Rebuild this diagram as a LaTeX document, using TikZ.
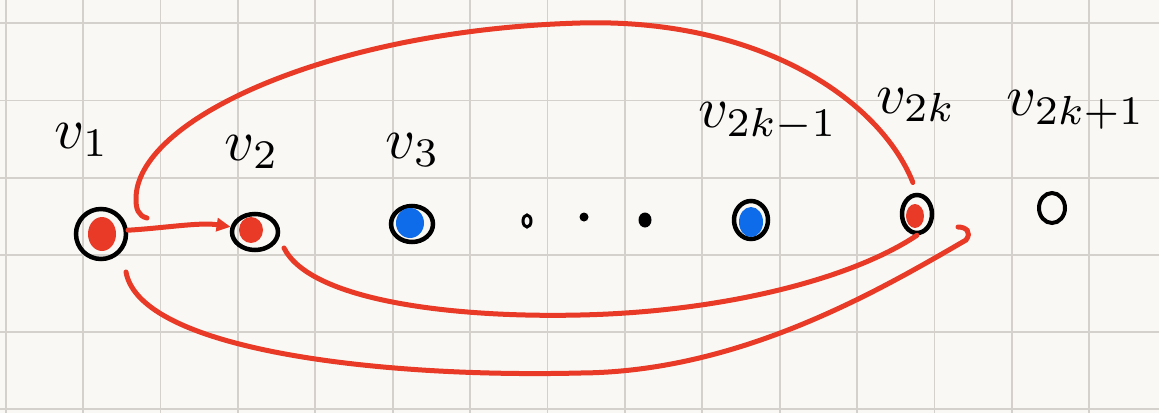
\documentclass[tikz,border=0pt]{standalone}
\usepackage{amsmath}
\usetikzlibrary{arrows.meta,shapes.geometric}
\definecolor{cbRed}{RGB}{232,58,38}
\definecolor{cbBlue}{RGB}{14,108,235}
\definecolor{paper}{RGB}{250,248,244}
\definecolor{gridgray}{RGB}{212,208,203}
\tikzset{
    >=Stealth,
    ring/.style={ellipse,draw=black,line width=4.5pt,inner sep=0pt},
    blob/.style={ellipse,fill=#1,inner sep=0pt},
    dot/.style={ellipse,fill=black,inner sep=0pt},
    lbl/.style={scale=5.8,inner sep=0pt},
    redarc/.style={draw=cbRed,line width=5pt,line cap=round},
    gridline/.style={draw=gridgray,line width=1.8pt}
}

\begin{document}
\begin{tikzpicture}[x=1pt,y=-1pt]
  \fill[paper] (0,0) rectangle (1159,413);
  \useasboundingbox (0,0) rectangle (1159,413);
  \foreach \i in {0,...,14} \draw[gridline] (5.7+77.4*\i,0) -- (5.7+77.4*\i,413);
  \foreach \j in {0,...,5} \draw[gridline] (0,23.3+77.2*\j) -- (1159,23.3+77.2*\j);

  \node[ring,minimum width=50pt,minimum height=50pt] (v1) at (101,234) {};
  \node[blob=cbRed,minimum width=28pt,minimum height=34pt] (v1f) at (102,234) {};
  \node[ring,minimum width=46pt,minimum height=36pt] (v2) at (255,232) {};
  \node[blob=cbRed,minimum width=24pt,minimum height=26pt] (v2f) at (251,230) {};
  \node[ring,minimum width=42pt,minimum height=36pt] (v3) at (412,224) {};
  \node[blob=cbBlue,minimum width=28pt,minimum height=30pt] (v3f) at (410,223) {};
  \node[ring,minimum width=34pt,minimum height=38pt] (v4) at (751,220) {};
  \node[blob=cbBlue,minimum width=24pt,minimum height=30pt] (v4f) at (751,222) {};
  \node[ring,minimum width=30pt,minimum height=38pt] (v2k) at (917,214) {};
  \node[blob=cbRed,minimum width=18pt,minimum height=24pt] (v2kf) at (915,216) {};
  \node[ring,line width=4pt,minimum width=26pt,minimum height=30pt] (v6) at (1052,208) {};

  \node[ellipse,draw,line width=3pt,minimum width=8pt,minimum height=12pt,inner sep=0pt] (d1) at (527,221) {};
  \node[dot,minimum width=9pt,minimum height=9pt] (d2) at (584,217) {};
  \node[dot,minimum width=13pt,minimum height=15pt] (d3) at (645,220) {};

  \node[lbl] (l1) at (82,140) {$v_1$};
  \node[lbl] (l2) at (252,152) {$v_2$};
  \node[lbl] (l3) at (413,150) {$v_3$};
  \node[lbl] (l4) at (768,122) {$v_{2k-1}$};
  \node[lbl] (l5) at (916,105) {$v_{2k}$};
  \node[lbl] (l6) at (1076,110) {$v_{2k+1}$};

  \coordinate (t0) at (147,218);
  \coordinate (t1) at (284,248);
  \coordinate (t2) at (126,272);
  \coordinate (t3) at (958,227);

  \draw[redarc,-{Triangle[length=14pt,width=13pt]}] (v1.8) .. controls (165,228) and (200,222) .. (v2.168);
  \draw[redarc,shorten >=11pt] (t0) .. controls (138,216) and (136,208) .. (136,200)
      .. controls (134,120) and (330,30) .. (580,23)
      .. controls (760,18) and (880,100) .. (v2k.north);
  \draw[redarc] (t1) .. controls (310,300) and (450,318) .. (580,315)
      .. controls (720,312) and (850,280) .. (v2k.south);
  \draw[redarc] (t2) .. controls (140,350) and (380,378) .. (580,373)
      .. controls (740,372) and (880,290) .. (966,240)
      .. controls (972,232) and (966,227) .. (t3);
\end{tikzpicture}
\end{document}
